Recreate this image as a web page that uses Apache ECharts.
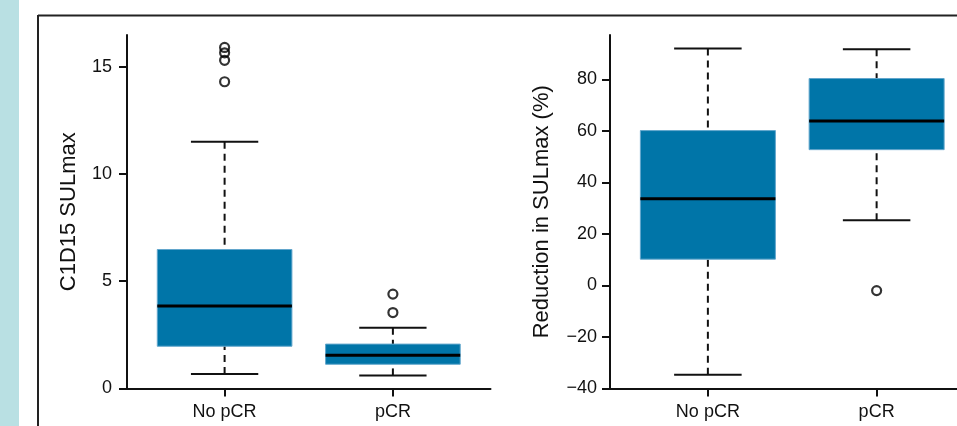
<!DOCTYPE html>
<html>
<head>
<meta charset="utf-8">
<style>
  html, body { margin: 0; padding: 0; background: #ffffff; }
  #chart { width: 957px; height: 426px; }
</style>
<script src="https://cdn.jsdelivr.net/npm/echarts@6/dist/echarts.min.js"></script>
</head>
<body>
<div id="chart"></div>
<script>
// ---- data ----
const categories = ['No pCR', 'pCR'];
// [lower whisker, Q1, median, Q3, upper whisker]
const c1d15Stats = [
  [0.68, 1.97, 3.85, 6.48, 11.5],
  [0.61, 1.13, 1.55, 2.07, 2.83]
];
const c1d15Outliers = [[1, 15.9], [1, 15.65], [1, 15.3], [1, 14.3], [2, 4.4], [2, 3.54]];
const reductionStats = [
  [-34.7, 10.2, 33.6, 60.1, 92.0],
  [25.3, 52.7, 63.8, 80.3, 91.7]
];
const reductionOutliers = [[2, -2.0]];
const c1d15Ticks = [0, 5, 10, 15];
const reductionTicks = [-40, -20, 0, 20, 40, 60, 80];
const categoryTicks = [1, 2];

// ---- styles ----
const FONT = 'Liberation Sans, Arial, sans-serif';
const INK = '#111111';
const BOX_FILL = '#0075a8';
const BOX_EDGE = '#62a6cc';
const BOX_HALF = 0.4;
const CAP_HALF = 0.2;

function withIndex(stats) {
  return stats.map((s, i) => [i + 1].concat(s));
}

function renderBox(params, api) {
  const x = api.value(0);
  const mn = api.value(1), q1 = api.value(2), md = api.value(3), q3 = api.value(4), mx = api.value(5);
  const cx = api.coord([x, md])[0];
  const y = v => api.coord([x, v])[1];
  const xl = api.coord([x - BOX_HALF, md])[0];
  const xr = api.coord([x + BOX_HALF, md])[0];
  const cl = api.coord([x - CAP_HALF, md])[0];
  const cr = api.coord([x + CAP_HALF, md])[0];
  const dash = { stroke: INK, lineWidth: 2, lineDash: [7, 5] };
  const solid = { stroke: INK, lineWidth: 2 };
  return {
    type: 'group',
    children: [
      { type: 'line', shape: { x1: cx, y1: y(mx), x2: cx, y2: y(q3) }, style: dash },
      { type: 'line', shape: { x1: cx, y1: y(mn), x2: cx, y2: y(q1) }, style: dash },
      { type: 'line', shape: { x1: cl, y1: y(mx), x2: cr, y2: y(mx) }, style: solid },
      { type: 'line', shape: { x1: cl, y1: y(mn), x2: cr, y2: y(mn) }, style: solid },
      { type: 'rect', shape: { x: xl, y: y(q3), width: xr - xl, height: y(q1) - y(q3) },
        style: { fill: BOX_FILL, stroke: BOX_EDGE, lineWidth: 1 } },
      { type: 'line', shape: { x1: xl, y1: y(md), x2: xr, y2: y(md) }, style: { stroke: '#000', lineWidth: 3 } }
    ]
  };
}

function xAxisFor(gridIndex) {
  return {
    type: 'value', gridIndex: gridIndex, min: 0.42, max: 2.58,
    splitLine: { show: false },
    axisLine: { onZero: false, lineStyle: { color: INK, width: 2 } },
    axisTick: { show: true, length: 8, customValues: categoryTicks, lineStyle: { color: INK, width: 2 } },
    axisLabel: {
      customValues: categoryTicks, margin: 15,
      formatter: v => categories[Math.round(v) - 1] || '',
      fontFamily: FONT, fontSize: 18, color: INK
    }
  };
}

function yAxisFor(gridIndex, min, max, ticks, name, nameGap, labelMargin) {
  return {
    type: 'value', gridIndex: gridIndex, min: min, max: max,
    splitLine: { show: false },
    axisLine: { show: true, onZero: false, lineStyle: { color: INK, width: 2 } },
    axisTick: { show: true, length: 8, customValues: ticks, lineStyle: { color: INK, width: 2 } },
    axisLabel: {
      customValues: ticks, margin: labelMargin,
      formatter: v => String(v).replace('-', '\u2212'),
      fontFamily: FONT, fontSize: 18, color: INK
    },
    name: name, nameLocation: 'middle', nameRotate: 90, nameGap: nameGap,
    nameTextStyle: { fontFamily: FONT, fontSize: 22, color: INK }
  };
}

const chart = echarts.init(document.getElementById('chart'), null, { renderer: 'canvas' });
chart.setOption({
  animation: false,
  backgroundColor: '#ffffff',
  graphic: [
    { type: 'rect', shape: { x: 0, y: 0, width: 19, height: 426 }, style: { fill: '#b9e0e3' }, z: -10 },
    { type: 'line', shape: { x1: 38, y1: 15.5, x2: 957, y2: 15.5 }, style: { stroke: '#222', lineWidth: 2 }, z: -5 },
    { type: 'line', shape: { x1: 38, y1: 15, x2: 38, y2: 426 }, style: { stroke: '#222', lineWidth: 2 }, z: -5 }
  ],
  grid: [
    { left: 127, top: 35, width: 363.5, height: 353.5, outerBoundsMode: 'none' },
    { left: 610, top: 35, width: 364.5, height: 353.5, outerBoundsMode: 'none' }
  ],
  xAxis: [xAxisFor(0), xAxisFor(1)],
  yAxis: [
    yAxisFor(0, 0, 16.48, c1d15Ticks, 'C1D15 SULmax', 47, 15),
    yAxisFor(1, -40, 97.2, reductionTicks, 'Reduction in SULmax (%)', 57, 13)
  ],
  series: [
    { type: 'custom', xAxisIndex: 0, yAxisIndex: 0, renderItem: renderBox,
      data: withIndex(c1d15Stats), encode: { x: 0, y: [1, 2, 3, 4, 5] }, clip: false, silent: true },
    { type: 'scatter', xAxisIndex: 0, yAxisIndex: 0, data: c1d15Outliers, symbol: 'circle', symbolSize: 9,
      itemStyle: { color: 'rgba(0,0,0,0)', borderColor: '#000', borderWidth: 2.2 }, silent: true },
    { type: 'custom', xAxisIndex: 1, yAxisIndex: 1, renderItem: renderBox,
      data: withIndex(reductionStats), encode: { x: 0, y: [1, 2, 3, 4, 5] }, clip: false, silent: true },
    { type: 'scatter', xAxisIndex: 1, yAxisIndex: 1, data: reductionOutliers, symbol: 'circle', symbolSize: 9,
      itemStyle: { color: 'rgba(0,0,0,0)', borderColor: '#000', borderWidth: 2.2 }, silent: true }
  ]
});
</script>
</body>
</html>
